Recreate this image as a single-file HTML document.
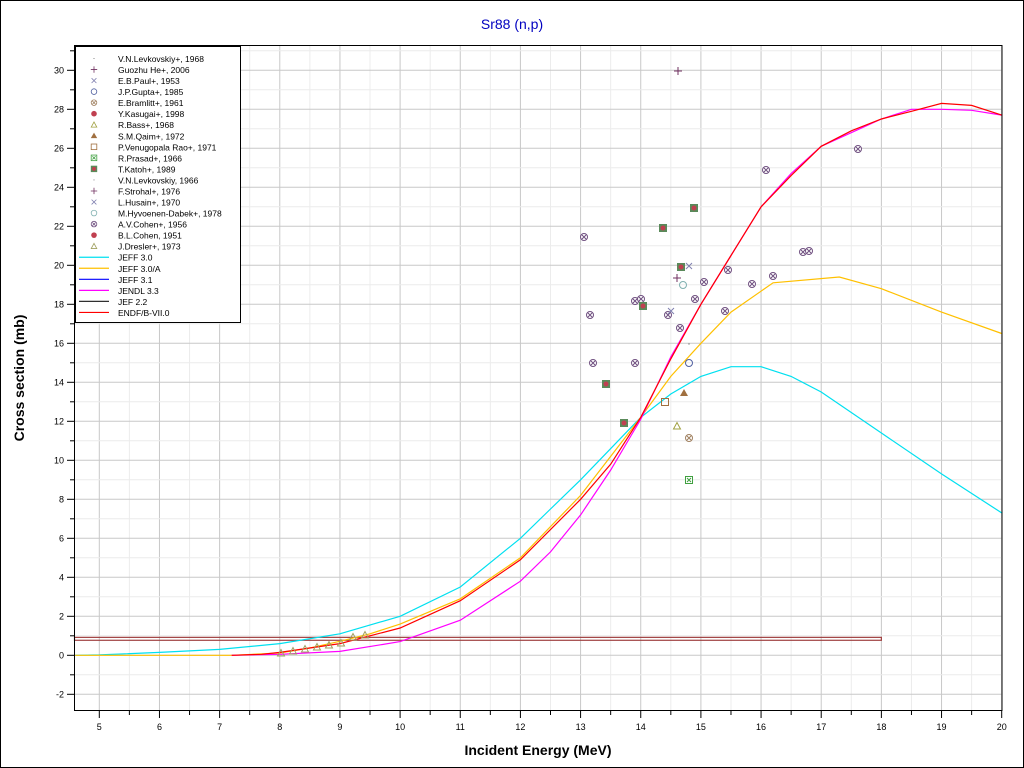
<!DOCTYPE html>
<html><head><meta charset="utf-8"><style>
html,body{margin:0;padding:0;background:#fff;}
svg{display:block;font-family:"Liberation Sans",sans-serif;}
</style></head><body>
<svg id="s" width="1024" height="768" xmlns="http://www.w3.org/2000/svg">
<rect x="0.5" y="0.5" width="1023" height="767" fill="#fff" stroke="#000"/>
<text x="512" y="29" text-anchor="middle" font-size="14" fill="#0000c0">Sr88 (n,p)</text>
<g id="grid"></g>
<g id="curves"></g>
<g id="pts"></g>
<rect x="74.5" y="45.5" width="927.5" height="665" fill="none" stroke="#000"/>
<g id="axes"></g>
<text x="538" y="755" text-anchor="middle" font-size="14" font-weight="bold">Incident Energy (MeV)</text>
<text transform="translate(24,378) rotate(-90)" text-anchor="middle" font-size="14" font-weight="bold">Cross section (mb)</text>
<g id="leg"></g>
</svg>
<script>
const NS="http://www.w3.org/2000/svg";
const X=e=>99.3+(e-5)*60.16, Y=v=>655.3-v*19.5;
function el(p,t,a,txt){const e=document.createElementNS(NS,t);for(const k in a)e.setAttribute(k,a[k]);if(txt!==undefined)e.textContent=txt;document.getElementById(p).appendChild(e);return e;}
for(let e=4.5;e<=20;e+=0.5){if(e<4.7)continue;const x=X(e);el("grid","line",{x1:x,x2:x,y1:46,y2:710,stroke:Number.isInteger(e)?"#c8c8c8":"#ececec","stroke-width":1});}
for(let v=-2;v<=31;v++){const y=Y(v);el("grid","line",{x1:75,x2:1002,y1:y,y2:y,stroke:v%2==0?"#c8c8c8":"#ececec","stroke-width":1});}
for(let e=5;e<=20;e+=0.5){const x=X(e);el("axes","line",{x1:x,x2:x,y1:710,y2:Number.isInteger(e)?718:715,stroke:"#000"});if(Number.isInteger(e))el("axes","text",{x:x,y:730,"text-anchor":"middle","font-size":"9"},e);}
for(let v=-2;v<=31;v++){const y=Y(v);el("axes","line",{x1:74,x2:v%2==0?67:70,y1:y,y2:y,stroke:"#000"});if(v%2==0)el("axes","text",{x:64,y:y+3,"text-anchor":"end","font-size":"9"},v);}
function path(pts,c,w){el("curves","path",{d:"M"+pts.map(p=>X(p[0]).toFixed(1)+","+Y(p[1]).toFixed(1)).join("L"),fill:"none",stroke:c,"stroke-width":w||1.2});}
el("curves","rect",{x:74.5,y:Y(0.92),width:X(18)-74.5,height:Y(0.77)-Y(0.92),fill:"none",stroke:"#a04040","stroke-width":1.2});
path([[4.6,0],[5,0.02],[6,0.15],[7,0.3],[8,0.6],[9,1.1],[10,2],[11,3.5],[12,6],[12.5,7.5],[13,9],[13.5,10.6],[14,12.2],[14.5,13.4],[15,14.3],[15.5,14.8],[16,14.8],[16.5,14.3],[17,13.5],[18,11.4],[19,9.3],[20,7.3]],"#00e0f0");
path([[4.6,0],[7.2,0],[8,0.12],[8.5,0.38],[9,0.72],[9.5,1.1],[10,1.6],[11,2.9],[12,5],[13,8.2],[14,12.2],[14.5,14.3],[15,16],[15.5,17.6],[16.2,19.1],[17.3,19.4],[18,18.8],[19,17.6],[20,16.5]],"#ffc000");
path([[7.2,0],[8,0.05],[9,0.2],[10,0.7],[11,1.8],[12,3.8],[12.5,5.3],[13,7.2],[13.5,9.5],[14,12.1],[14.5,15.3],[15,18],[15.5,20.5],[16,23],[16.5,24.7],[17,26.1],[18,27.5],[18.5,28],[19,28],[19.5,27.95],[20,27.7]],"#ff00ff");
path([[7.2,0],[7.7,0.05],[8,0.15],[9,0.6],[10,1.4],[11,2.8],[12,4.9],[13,8],[13.5,9.8],[14,12.2],[14.5,15.2],[15,18],[15.5,20.5],[16,23],[16.5,24.6],[17,26.1],[17.5,26.9],[18,27.5],[18.5,27.9],[19,28.3],[19.5,28.2],[20,27.7]],"#ff0000");
function mk(g,t,x,y){const c={"cx":"#705080","katoh":"#5a8a5a","prasad":"#40a040","sq":"#a07040","qaim":"#a07040","tri":"#a0a040","circ":"#5060a0","hy":"#80b0b0","plus":"#703060","x":"#8080b0","dot":"#444","bram":"#a08060","red":"#c04050","tri2":"#a0a060"}[t];
if(t=="cx"||t=="bram"){el(g,"circle",{cx:x,cy:y,r:3.5,fill:"#fff",stroke:c});el(g,"path",{d:`M${x-2},${y-2}L${x+2},${y+2}M${x+2},${y-2}L${x-2},${y+2}`,stroke:c});}
else if(t=="katoh"){el(g,"rect",{x:x-4,y:y-4,width:8,height:8,fill:c});el(g,"circle",{cx:x,cy:y,r:2.5,fill:"#c04050"});}
else if(t=="prasad"){el(g,"rect",{x:x-3.5,y:y-3.5,width:7,height:7,fill:"#fff",stroke:c});el(g,"path",{d:`M${x-2},${y-2}L${x+2},${y+2}M${x+2},${y-2}L${x-2},${y+2}`,stroke:c});}
else if(t=="sq")el(g,"rect",{x:x-3.5,y:y-3.5,width:7,height:7,fill:"none",stroke:c});
else if(t=="qaim")el(g,"path",{d:`M${x-4},${y+3}L${x},${y-4}L${x+4},${y+3}Z`,fill:c});
else if(t=="tri"||t=="tri2")el(g,"path",{d:`M${x-3.5},${y+3}L${x},${y-3.5}L${x+3.5},${y+3}Z`,fill:"none",stroke:c});
else if(t=="circ"||t=="hy")el(g,"circle",{cx:x,cy:y,r:3.5,fill:"none",stroke:c});
else if(t=="plus")el(g,"path",{d:`M${x-4},${y}L${x+4},${y}M${x},${y-4}L${x},${y+4}`,stroke:c});
else if(t=="x")el(g,"path",{d:`M${x-3},${y-3}L${x+3},${y+3}M${x+3},${y-3}L${x-3},${y+3}`,stroke:c});
else if(t=="dot")el(g,"rect",{x:x-0.5,y:y-0.5,width:1,height:1,fill:c});
else if(t=="red")el(g,"circle",{cx:x,cy:y,r:3.5,fill:c});}
[[584,237],[590,315],[593,363],[635,363],[635,301],[641,299],[668,315],[680,328],[695,299],[704,282],[728,270],[725,311],[752,284],[773,276],[803,252],[809,251],[766,170],[858,149]].forEach(p=>mk("pts","cx",p[0],p[1]));
mk("pts","bram",689,438);
[[694,208],[663,228],[681,267],[643,306],[606,384],[624,423]].forEach(p=>mk("pts","katoh",p[0],p[1]));
mk("pts","prasad",689,480);mk("pts","sq",665,402);mk("pts","qaim",684,393);mk("pts","tri",677,426);
mk("pts","circ",689,363);mk("pts","hy",683,285);mk("pts","plus",677,278);mk("pts","plus",678,71);
mk("pts","x",689,266);mk("pts","x",671,311);mk("pts","dot",689,344);
[[281,653],[293,651],[305,649],[317,647],[329,645],[341,643],[353,637],[365,635]].forEach(p=>mk("pts","tri2",p[0],p[1]));
el("leg","rect",{x:75.5,y:46.5,width:165,height:276,fill:"#fff",stroke:"#000"});
const L=[["dot","V.N.Levkovskiy+, 1968"],["plus","Guozhu He+, 2006"],["x","E.B.Paul+, 1953"],["circ","J.P.Gupta+, 1985"],["bram","E.Bramlitt+, 1961"],["red","Y.Kasugai+, 1998"],["tri","R.Bass+, 1968"],["qaim","S.M.Qaim+, 1972"],["sq","P.Venugopala Rao+, 1971"],["prasad","R.Prasad+, 1966"],["katoh","T.Katoh+, 1989"],["dot","V.N.Levkovskiy, 1966"],["plus","F.Strohal+, 1976"],["x","L.Husain+, 1970"],["hy","M.Hyvoenen-Dabek+, 1978"],["cx","A.V.Cohen+, 1956"],["red","B.L.Cohen, 1951"],["tri2","J.Dresler+, 1973"]];
L.forEach((l,i)=>{const y=58.5+i*11.04;const g=el("leg","g",{transform:`translate(94,${y}) scale(0.8) translate(-94,${-y})`});g.id="lg"+i;mk("lg"+i,l[0],94,y);el("leg","text",{x:118,y:y+3.5,"font-size":"8.5"},l[1]);});
[["#00e0f0","JEFF 3.0"],["#ffc000","JEFF 3.0/A"],["#0000ff","JEFF 3.1"],["#ff00ff","JENDL 3.3"],["#303030","JEF 2.2"],["#ff0000","ENDF/B-VII.0"]].forEach((l,i)=>{const y=58.5+(18+i)*11.04;el("leg","line",{x1:79,x2:109,y1:y,y2:y,stroke:l[0],"stroke-width":1.2});el("leg","text",{x:118,y:y+3.5,"font-size":"8.5"},l[1]);});
</script>
</body></html>
